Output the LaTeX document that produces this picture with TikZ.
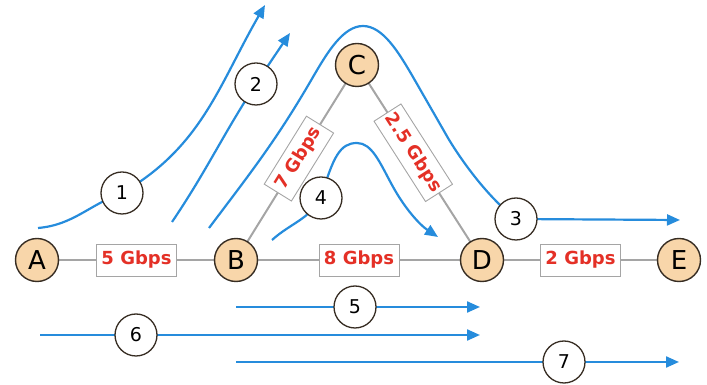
\documentclass[tikz,border=0pt]{standalone}
\usepackage{fontspec}
\setmainfont{DejaVu Sans}
\usetikzlibrary{arrows.meta}
\definecolor{flowblue}{RGB}{38,140,220}
\definecolor{linkred}{RGB}{228,48,38}
\definecolor{peach}{RGB}{248,214,170}
\definecolor{linkgray}{RGB}{165,165,165}
\definecolor{rim}{RGB}{55,45,35}
\begin{document}
\begin{tikzpicture}[x=1pt,y=1pt,
  router/.style={circle,draw=rim,line width=1.4pt,fill=peach,minimum size=43pt,
    inner sep=0pt,font=\fontsize{26}{26}\selectfont},
  tag/.style={circle,draw=rim,line width=1.3pt,fill=white,minimum size=42pt,
    inner sep=0pt,font=\fontsize{19}{19}\selectfont},
  rate/.style={draw=linkgray,line width=0.9pt,fill=white,text=linkred,
    font=\bfseries\fontsize{18}{18}\selectfont,minimum height=32pt,
    minimum width=80pt,inner sep=3pt},
  link/.style={draw=linkgray,line width=2pt},
  flow/.style={draw=flowblue,line width=2.2pt,-{Triangle[length=13pt,width=11pt]}},
]
\useasboundingbox (0,0) rectangle (707,385);

% routers
\coordinate (pA) at (37,125);
\coordinate (pB) at (236,125);
\coordinate (pC) at (357,320);
\coordinate (pD) at (482,125);
\coordinate (pE) at (679,125);

% links with their capacities
\draw[link] (pA) -- (pB) node[rate,midway] {5 Gbps};
\draw[link] (pB) -- (pD) node[rate,midway] {8 Gbps};
\draw[link] (pD) -- (pE) node[rate,midway] {2 Gbps};
\draw[link] (pB) -- (pC) node[rate,pos=0.52,sloped] {7 Gbps};
\draw[link] (pC) -- (pD) node[rate,pos=0.45,sloped] {2.5 Gbps};

\node[router] (A) at (pA) {A};
\node[router] (B) at (pB) {B};
\node[router] (C) at (pC) {C};
\node[router] (D) at (pD) {D};
\node[router] (E) at (pE) {E};

% flow markers
\coordinate (t1) at (122,192);
\coordinate (t2) at (256,301);
\coordinate (t3) at (516,166);
\coordinate (t4) at (321,187);
\coordinate (t5) at (355,78);
\coordinate (t6) at (136,50);
\coordinate (t7) at (564,23);

% flow ends
\coordinate (f1s) at (38,157);  \coordinate (f1e) at (265,380);
\coordinate (f2s) at (172,163); \coordinate (f2e) at (290,352);
\coordinate (f3s) at (209,157); \coordinate (f3e) at (680,165);
\coordinate (f4s) at (272,145); \coordinate (f4e) at (438,148);
\coordinate (f5s) at (236,78);  \coordinate (f5e) at (480,78);
\coordinate (f6s) at (40,50);   \coordinate (f6e) at (480,50);
\coordinate (f7s) at (236,23);  \coordinate (f7e) at (679,23);

% flows
\draw[flow] (f1s) to[out=5,in=200] (t1) to[out=30,in=240] (f1e);
\draw[flow] (f2s) to[out=56,in=237] (t2) to[out=57,in=236] (f2e);
\draw[flow] (f3s) to[out=53,in=240] (313,308)
  .. controls (327,332) and (343,359) .. (363,359)
  .. controls (383,359) and (399,332) .. (413,308) -- (448,247)
  .. controls (458,230) and (485,190) .. (t3) -- (f3e);
\draw[flow] (f4s) to[out=42,in=240] (t4) .. controls (333,228) and (340,242) .. (357,242)
  .. controls (372,242) and (380,222) .. (392,200)
  .. controls (405,176) and (420,160) .. (f4e);
\draw[flow] (f5s) -- (t5) -- (f5e);
\draw[flow] (f6s) -- (t6) -- (f6e);
\draw[flow] (f7s) -- (t7) -- (f7e);

\node[tag] (n1) at (t1) {1};
\node[tag] (n2) at (t2) {2};
\node[tag] (n3) at (t3) {3};
\node[tag] (n4) at (t4) {4};
\node[tag] (n5) at (t5) {5};
\node[tag] (n6) at (t6) {6};
\node[tag] (n7) at (t7) {7};
\end{tikzpicture}
\end{document}
